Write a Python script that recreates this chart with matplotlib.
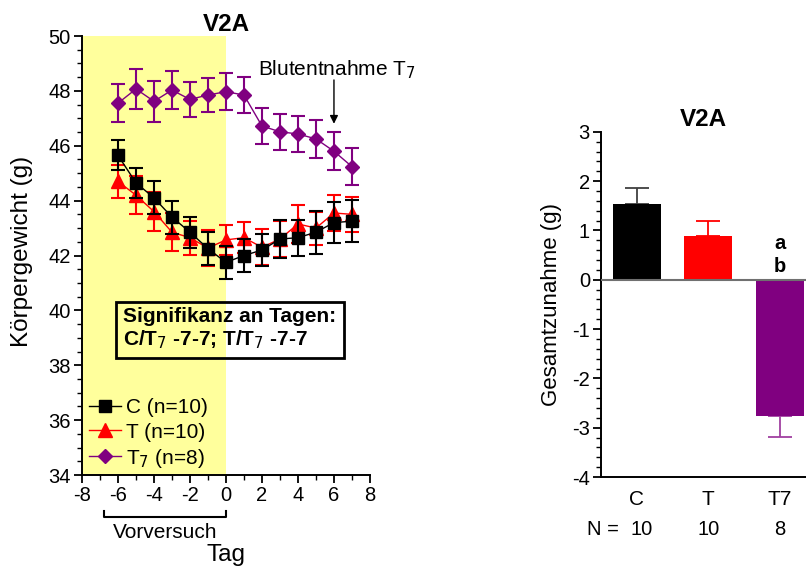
import numpy as np
import matplotlib
matplotlib.use('Agg')
import matplotlib.pyplot as plt
from matplotlib.ticker import MultipleLocator
from matplotlib.lines import Line2D

plt.rcParams['font.family'] = ['Liberation Sans', 'DejaVu Sans']
plt.rcParams['axes.unicode_minus'] = False

# Koerpergewicht pro Tag
tage = [-6, -5, -4, -3, -2, -1, 0, 1, 2, 3, 4, 5, 6, 7]
c_mw = [45.65, 44.65, 44.1, 43.4, 42.85, 42.25, 41.75, 42.0, 42.2, 42.6, 42.65, 42.85, 43.2, 43.25]
c_se = [0.55, 0.55, 0.6, 0.6, 0.57, 0.6, 0.6, 0.6, 0.57, 0.7, 0.65, 0.78, 0.75, 0.77]
t_mw = [44.7, 44.2, 43.6, 42.85, 42.65, 42.27, 42.57, 42.65, 42.3, 42.6, 43.15, 43.0, 43.55, 43.5]
t_se = [0.6, 0.7, 0.7, 0.7, 0.62, 0.65, 0.55, 0.57, 0.65, 0.65, 0.7, 0.6, 0.67, 0.65]
t7_mw = [47.55, 48.07, 47.62, 48.03, 47.69, 47.85, 47.97, 47.85, 46.72, 46.51, 46.43, 46.25, 45.8, 45.24]
t7_se = [0.7, 0.72, 0.74, 0.7, 0.64, 0.62, 0.67, 0.65, 0.65, 0.65, 0.67, 0.68, 0.7, 0.67]

# Gesamtzunahme
gruppen = ['C', 'T', 'T7']
n_tiere = ['10', '10', '8']
zunahme = [1.53, 0.89, -2.77]
zunahme_se = [0.33, 0.31, 0.42]

purple = '#800080'
fig = plt.figure(figsize=(8.06, 5.68), dpi=100)

# linkes Diagramm
ax = fig.add_axes([0.1017, 0.1637, 0.3573, 0.7729])
ax.axvspan(-8, 0, color='#ffff9c', zorder=0, lw=0)
ekw = dict(capsize=4.7, elinewidth=1.5, capthick=1.5, lw=1)
ax.errorbar(tage, t7_mw, yerr=t7_se, color=purple, marker='D', markersize=7, zorder=3, **ekw)
ax.errorbar(tage, t_mw, yerr=t_se, color='red', marker='^', markersize=9.5, zorder=4, **ekw)
ax.errorbar(tage, c_mw, yerr=c_se, color='black', marker='s', markersize=8.6, zorder=5, **ekw)

ax.set_xlim(-8, 8)
ax.set_ylim(34, 50)
ax.xaxis.set_major_locator(MultipleLocator(2))
ax.xaxis.set_minor_locator(MultipleLocator(1))
ax.yaxis.set_major_locator(MultipleLocator(2))
ax.yaxis.set_minor_locator(MultipleLocator(0.5))
for s in ['top', 'right']:
    ax.spines[s].set_visible(False)
for s in ['left', 'bottom']:
    ax.spines[s].set_linewidth(1.4)
ax.tick_params(which='major', direction='out', length=6, width=1.3, labelsize=14.5, pad=2)
ax.tick_params(which='minor', direction='out', length=3.5, width=1.0)
ax.set_title('V2A', fontsize=17.5, fontweight='bold', pad=2)
ax.set_ylabel('Körpergewicht (g)', fontsize=17.5)
ax.yaxis.set_label_coords(-0.17, 0.51)
ax.set_xlabel('Tag', fontsize=17.5, va='top')
ax.xaxis.set_label_coords(0.5, -0.158)

handles = [Line2D([], [], color='black', marker='s', markersize=8.6, lw=1),
           Line2D([], [], color='red', marker='^', markersize=9.5, lw=1),
           Line2D([], [], color=purple, marker='D', markersize=7, lw=1)]
labels = ['C (n=10)', 'T (n=10)', 'T$_7$ (n=8)']
ax.legend(handles, labels, loc='lower left', bbox_to_anchor=(0.025, 0.012),
          frameon=False, fontsize=15, handlelength=1.55, handletextpad=0.2,
          labelspacing=0.25, borderpad=0, borderaxespad=0)

ax.text(0.22, 39.32, 'Signifikanz an Tagen:\nC/T$_7$ -7-7; T/T$_7$ -7-7', fontsize=15,
        fontweight='bold', ha='center', va='center', multialignment='left', linespacing=1.1,
        bbox=dict(boxstyle='square,pad=0.35', fc='none', ec='black', lw=2), zorder=6)

ax.text(1.78, 48.76, 'Blutentnahme T$_7$', fontsize=15, ha='left', va='center')
ax.annotate('', xy=(6, 46.7), xytext=(6, 48.5),
            arrowprops=dict(arrowstyle='-|>', color='black', lw=1, mutation_scale=12))

tr = ax.get_xaxis_transform()
ax.plot([-6.8, -6.8, 0, 0], [-0.082, -0.095, -0.095, -0.082], color='black', lw=1.5,
        transform=tr, clip_on=False)
ax.text(-3.4, -0.132, 'Vorversuch', fontsize=15, ha='center', va='center', transform=tr)

# rechtes Diagramm
ax2 = fig.add_axes([0.7457, 0.1602, 0.2543, 0.6078])
farben = ['black', 'red', purple]
errfarben = ['#404040', 'red', '#a040a0']
x = np.arange(len(gruppen))
ax2.bar(x, zunahme, width=0.67, color=farben, zorder=2)
for i in range(len(gruppen)):
    if zunahme[i] >= 0:
        yerr = [[0], [zunahme_se[i]]]
    else:
        yerr = [[zunahme_se[i]], [0]]
    ax2.errorbar(x[i], zunahme[i], yerr=yerr, color=errfarben[i], capsize=8.7,
                 elinewidth=1.3, capthick=1.3, fmt='none', zorder=1)
ax2.axhline(0, color='#707070', lw=1.5, zorder=3)
ax2.set_xlim(-0.5, 2.37)
ax2.set_ylim(-4, 3)
ax2.yaxis.set_major_locator(MultipleLocator(1))
ax2.yaxis.set_minor_locator(MultipleLocator(0.2))
for s in ['top', 'right']:
    ax2.spines[s].set_visible(False)
for s in ['left', 'bottom']:
    ax2.spines[s].set_linewidth(1.4)
ax2.tick_params(axis='y', which='major', direction='out', length=6, width=1.3, labelsize=14.5, pad=2)
ax2.tick_params(axis='y', which='minor', direction='out', length=3.5, width=1.0)
ax2.set_xticks(x)
ax2.set_xticklabels(gruppen, fontsize=15)
ax2.tick_params(axis='x', length=0, pad=9)
ax2.set_title('V2A', fontsize=17.5, fontweight='bold', pad=4)
ax2.set_ylabel('Gesamtzunahme (g)', fontsize=16)
ax2.yaxis.set_label_coords(-0.19, 0.5)

tr2 = ax2.get_xaxis_transform()
ax2.text(-0.475, -0.152, 'N =', fontsize=14.5, ha='center', va='center', transform=tr2)
for i in range(len(gruppen)):
    ax2.text(x[i] + 0.07 * (i == 0), -0.152, n_tiere[i], fontsize=14.5, ha='center',
             va='center', transform=tr2)
ax2.text(2.0, 0.73, 'a', fontsize=14.5, fontweight='bold', ha='center', va='center')
ax2.text(2.0, 0.26, 'b', fontsize=14.5, fontweight='bold', ha='center', va='center')

fig.savefig('out.png', dpi=100)
